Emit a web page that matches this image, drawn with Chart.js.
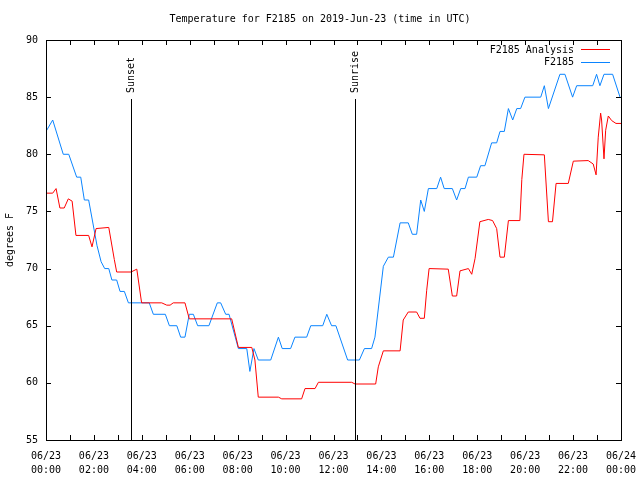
<!DOCTYPE html>
<html>
<head>
<meta charset="utf-8">
<script src="https://cdn.jsdelivr.net/npm/chart.js@4/dist/chart.umd.min.js"></script>
<style>
  html, body { margin: 0; padding: 0; background: #fff; }
</style>
</head>
<body>
<canvas id="tempChart" width="640" height="480"></canvas>
<script>
// Readings, hours since 2019-06-23 00:00 UTC
const hoursAnalysis = [0, 0.28, 0.42, 0.58, 0.76, 0.93, 1.09, 1.25, 1.78, 1.92, 2.09, 2.62, 2.85, 2.95, 3.55, 3.79,
  3.99, 4.83, 5.04, 5.18, 5.31, 5.80, 5.98, 7.75, 8.03, 8.59, 8.72, 8.86, 9.70, 9.84, 10.67, 10.81, 11.23, 11.37,
  12.76, 12.90, 13.76, 13.87, 14.08, 14.78, 14.91, 15.12, 15.47, 15.61, 15.79, 15.89, 15.99, 16.79, 16.96, 17.14,
  17.28, 17.63, 17.77, 17.91, 18.11, 18.46, 18.64, 18.81, 18.95, 19.13, 19.30, 19.78, 19.86, 19.95, 20.80, 20.97,
  21.14, 21.29, 21.80, 22.01, 22.63, 22.84, 22.96, 23.05, 23.15, 23.19, 23.29, 23.36, 23.47, 23.61, 23.79, 24.0];
const tempAnalysis = [76.6, 76.6, 77.0, 75.3, 75.3, 76.1, 75.9, 72.9, 72.9, 71.9, 73.5, 73.6, 70.8, 69.7, 69.7, 69.95,
  67.0, 67.0, 66.8, 66.8, 67.0, 67.0, 65.6, 65.6, 63.1, 63.1, 62.0, 58.75, 58.75, 58.6, 58.6, 59.5, 59.5, 60.05,
  60.05, 59.9, 59.9, 61.4, 62.8, 62.8, 65.5, 66.2, 66.2, 65.65, 65.65, 68.1, 70.0, 69.95, 67.6, 67.6,
  69.8, 70.0, 69.5, 70.9, 74.1, 74.3, 74.2, 73.5, 71.0, 71.0, 74.2, 74.2, 77.8, 80.0, 79.95, 74.1,
  74.1, 77.45, 77.45, 79.4, 79.45, 79.15, 78.2, 81.5, 83.6, 83.0, 79.6, 82.1, 83.35, 82.95, 82.7, 82.7];

const hoursObs = [0, 0.28, 0.72, 0.95, 1.28, 1.45, 1.60, 1.78, 2.13, 2.30, 2.45, 2.62, 2.75, 2.95, 3.09, 3.27, 3.44,
  4.31, 4.48, 4.98, 5.15, 5.46, 5.62, 5.80, 5.98, 6.15, 6.33, 6.80, 7.15, 7.29, 7.50, 7.64, 8.03, 8.38, 8.51, 8.68,
  8.86, 9.38, 9.70, 9.86, 10.21, 10.39, 10.88, 11.05, 11.55, 11.72, 11.92, 12.10, 12.59, 13.08, 13.29, 13.59, 13.73,
  14.08, 14.29, 14.50, 14.78, 15.12, 15.29, 15.47, 15.64, 15.79, 15.96, 16.31, 16.47, 16.62, 16.96, 17.14, 17.31,
  17.49, 17.63, 17.98, 18.14, 18.32, 18.60, 18.81, 18.95, 19.13, 19.30, 19.48, 19.65, 19.81, 19.99, 20.65, 20.80,
  20.97, 21.45, 21.66, 21.98, 22.15, 22.82, 22.98, 23.12, 23.29, 23.65, 23.96];
const tempObs = [82, 83, 80, 80, 78, 78, 76, 76, 72, 70.6, 70, 70, 69, 69, 68, 68, 67,
  67, 66, 66, 65, 65, 64, 64, 66, 66, 65, 65, 67, 67, 66, 66, 63, 63, 61, 63,
  62, 62, 64, 63, 63, 64, 64, 65, 65, 66, 65, 65, 62, 62, 63, 63, 64,
  70.2, 71, 71, 74, 74, 73, 73, 76, 75, 77, 77, 78, 77, 77, 76, 77,
  77, 78, 78, 79, 79, 81, 81, 82, 82, 84, 83, 84, 84, 85, 85, 86,
  84, 87, 87, 85, 86, 86, 87, 86, 87, 87, 85];

const tickDays = ['06/23', '06/23', '06/23', '06/23', '06/23', '06/23', '06/23', '06/23', '06/23', '06/23', '06/23', '06/23', '06/24'];
const tickTimes = ['00:00', '02:00', '04:00', '06:00', '08:00', '10:00', '12:00', '14:00', '16:00', '18:00', '20:00', '22:00', '00:00'];

const eventHours = [3.55, 12.9];
const eventNames = ['Sunset', 'Sunrise'];

const monoFont = { family: '"DejaVu Sans Mono", "Liberation Mono", monospace', size: 10 };
const fontStr = '10px "DejaVu Sans Mono", "Liberation Mono", monospace';

// gnuplot look: frame, inward ticks, sun lines, title, key
const gnuplotDecor = {
  id: 'gnuplotDecor',
  afterDraw(chart) {
    const c = chart.ctx;
    const a = chart.chartArea;
    const xs = chart.scales.x, ys = chart.scales.y;
    c.save();
    c.strokeStyle = '#000';
    c.lineWidth = 1;
    c.strokeRect(Math.round(a.left) + 0.5, Math.round(a.top) + 0.5,
      Math.round(a.right - a.left), Math.round(a.bottom - a.top));

    c.beginPath();
    for (let h = 0; h <= 24; h++) {
      const px = Math.round(xs.getPixelForValue(h)) + 0.5;
      c.moveTo(px, a.bottom); c.lineTo(px, a.bottom - 5);
      c.moveTo(px, a.top); c.lineTo(px, a.top + 5);
    }
    for (let v = 55; v <= 90; v += 5) {
      const py = Math.round(ys.getPixelForValue(v)) + 0.5;
      c.moveTo(a.left, py); c.lineTo(a.left + 5, py);
      c.moveTo(a.right, py); c.lineTo(a.right - 5, py);
    }
    c.stroke();

    c.font = fontStr;
    c.fillStyle = '#000';
    eventHours.forEach((h, i) => {
      const px = Math.round(xs.getPixelForValue(h)) + 0.5;
      c.beginPath();
      c.moveTo(px, a.bottom); c.lineTo(px, 99);
      c.stroke();
      c.save();
      c.translate(px, 93);
      c.rotate(-Math.PI / 2);
      c.textAlign = 'left';
      c.textBaseline = 'middle';
      c.fillText(eventNames[i], 0, 0);
      c.restore();
    });

    c.textAlign = 'center';
    c.textBaseline = 'middle';
    c.fillText('Temperature for F2185 on 2019-Jun-23 (time in UTC)', 320, 19);

    c.save();
    c.translate(10, 240);
    c.rotate(-Math.PI / 2);
    c.fillText('degrees F', 0, 0);
    c.restore();

    chart.data.datasets.forEach((ds, i) => {
      const y = 50 + i * 12.5;
      c.textAlign = 'right';
      c.fillText(ds.label, 574, y);
      c.strokeStyle = ds.borderColor;
      c.beginPath();
      c.moveTo(581, Math.round(y) - 0.5); c.lineTo(610, Math.round(y) - 0.5);
      c.stroke();
    });
    c.restore();
  }
};

const ctx = document.getElementById('tempChart').getContext('2d');
const tempChart = new Chart(ctx, {
  type: 'line',
  data: {
    datasets: [{
      label: 'F2185 Analysis',
      data: hoursAnalysis.map((h, i) => ({ x: h, y: tempAnalysis[i] })),
      borderColor: '#ff0000',
      borderWidth: 1,
      pointRadius: 0,
      tension: 0
    }, {
      label: 'F2185',
      data: hoursObs.map((h, i) => ({ x: h, y: tempObs[i] })),
      borderColor: '#0a84ff',
      borderWidth: 1,
      pointRadius: 0,
      tension: 0
    }]
  },
  options: {
    responsive: false,
    animation: false,
    layout: { padding: { top: 40, right: 19, left: 0, bottom: 0 } },
    plugins: {
      legend: { display: false },
      title: { display: false },
      tooltip: { enabled: false }
    },
    scales: {
      x: {
        type: 'linear',
        min: 0,
        max: 24,
        grid: { display: false, drawTicks: false },
        border: { display: false },
        ticks: {
          stepSize: 2,
          autoSkip: false,
          maxRotation: 0,
          color: '#000',
          padding: 9,
          font: { ...monoFont, lineHeight: 1.4 },
          callback: (v) => [tickDays[v / 2], tickTimes[v / 2]]
        },
        afterFit: (s) => { s.height = 40; s.paddingLeft = 0; s.paddingRight = 0; }
      },
      y: {
        min: 55,
        max: 90,
        grid: { display: false, drawTicks: false },
        border: { display: false },
        ticks: { stepSize: 5, color: '#000', padding: 8, font: monoFont },
        afterFit: (s) => { s.width = 46; s.paddingTop = 0; s.paddingBottom = 0; }
      }
    }
  },
  plugins: [gnuplotDecor]
});
</script>
</body>
</html>
